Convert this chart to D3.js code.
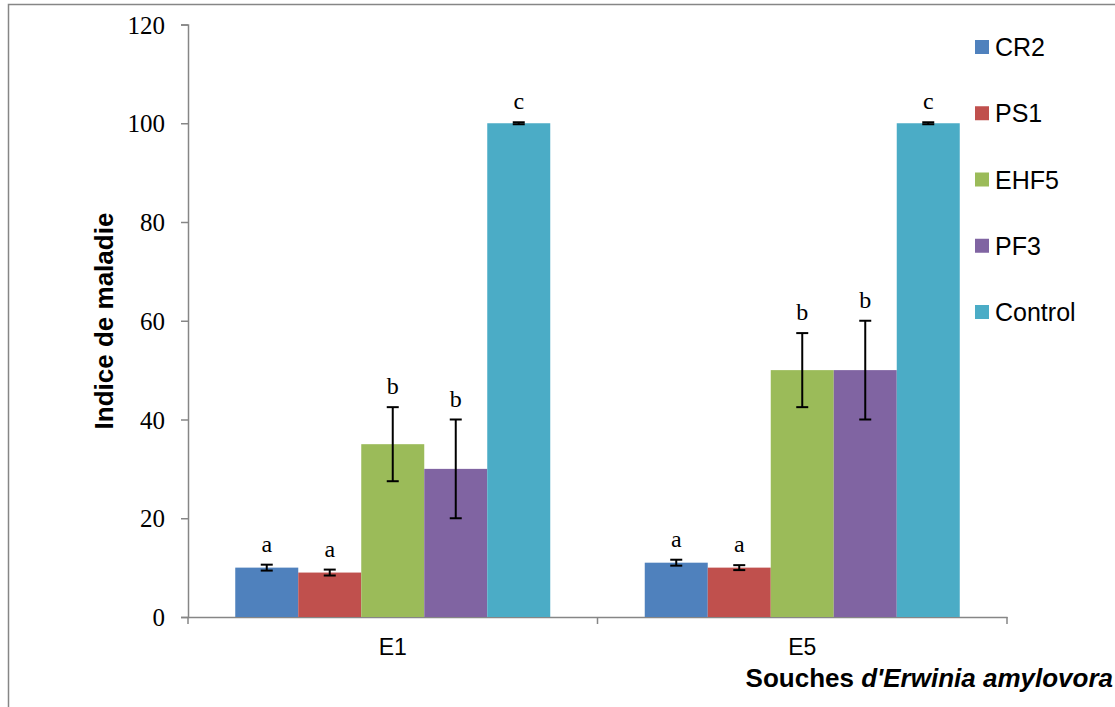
<!DOCTYPE html>
<html>
<head>
<meta charset="utf-8">
<script src="https://cdn.jsdelivr.net/npm/d3@7"></script>
<style>
  html, body { margin: 0; padding: 0; background: #fff; }
  svg { display: block; }
</style>
</head>
<body>
<svg id="chart" width="1115" height="707"></svg>
<script>
// Disease index per Erwinia amylovora strain and treatment
const strains = ["E1", "E5"];
const treatments = ["CR2", "PS1", "EHF5", "PF3", "Control"];
const colors = ["#4F81BD", "#C0504D", "#9BBB59", "#8064A2", "#4BACC6"];
const valuesE1 = [10, 9, 35, 30, 100];
const valuesE5 = [11, 10, 50, 50, 100];
const errorsE1 = [0.6, 0.6, 7.5, 10, 0.2];
const errorsE5 = [0.6, 0.5, 7.5, 10, 0.2];
const lettersE1 = ["a", "a", "b", "b", "c"];
const lettersE5 = ["a", "a", "b", "b", "c"];
const yTicks = [0, 20, 40, 60, 80, 100, 120];

const rows = [
  { strain: "E1", values: valuesE1, errors: errorsE1, letters: lettersE1 },
  { strain: "E5", values: valuesE5, errors: errorsE5, letters: lettersE5 }
];

const svg = d3.select("#chart");
const axisColor = "#868686";

// outer chart frame
svg.append("rect")
  .attr("x", 8.5).attr("y", 4.5)
  .attr("width", 1200).attr("height", 800)
  .attr("fill", "none").attr("stroke", axisColor).attr("stroke-width", 1.5);

const x0 = d3.scaleBand().domain(strains).range([188, 1007]).paddingInner(0).paddingOuter(0);
const x1 = d3.scaleBand().domain(treatments).range([0, x0.bandwidth()]).paddingInner(0).paddingOuter(0.75);
const y = d3.scaleLinear().domain([0, 120]).range([617, 24.5]);
const color = d3.scaleOrdinal().domain(treatments).range(colors);

// y axis
const yAxis = svg.append("g")
  .attr("transform", "translate(188,0)")
  .call(d3.axisLeft(y).tickValues(yTicks).tickSize(7).tickPadding(16).tickFormat(d3.format("d")));
yAxis.select(".domain").attr("stroke", axisColor).attr("stroke-width", 1.5);
yAxis.selectAll(".tick line").attr("stroke", axisColor).attr("stroke-width", 1.5);
yAxis.selectAll(".tick text")
  .attr("font-family", "'Liberation Serif', 'Times New Roman', serif")
  .attr("font-size", 25).attr("fill", "#000").attr("dy", "0.34em");

// x axis
const xAxis = svg.append("g")
  .attr("transform", "translate(0,617)")
  .call(d3.axisBottom(x0).tickSize(0).tickPadding(22));
xAxis.select(".domain").attr("stroke", axisColor).attr("stroke-width", 1.5);
xAxis.selectAll(".tick text")
  .attr("font-family", "'Liberation Sans', Arial, sans-serif")
  .attr("font-size", 23).attr("fill", "#000");
// category separator ticks
svg.append("g").selectAll("line")
  .data([x0.range()[0], x0("E5"), x0.range()[1]])
  .join("line")
  .attr("x1", d => d).attr("x2", d => d)
  .attr("y1", 617).attr("y2", 624)
  .attr("stroke", axisColor).attr("stroke-width", 1.5);

// bars
const groups = svg.append("g").selectAll("g")
  .data(rows).join("g")
  .attr("transform", d => `translate(${x0(d.strain)},0)`);

const items = groups.selectAll("g")
  .data(d => treatments.map((t, i) => ({ t, v: d.values[i], e: d.errors[i], l: d.letters[i] })))
  .join("g");

items.append("rect")
  .attr("x", d => x1(d.t))
  .attr("y", d => y(d.v))
  .attr("width", x1.bandwidth())
  .attr("height", d => y(0) - y(d.v))
  .attr("fill", d => color(d.t));

// error bars
const capHalf = 6;
items.append("line")
  .attr("x1", d => x1(d.t) + x1.bandwidth() / 2)
  .attr("x2", d => x1(d.t) + x1.bandwidth() / 2)
  .attr("y1", d => y(d.v + d.e))
  .attr("y2", d => y(d.v - d.e))
  .attr("stroke", "#000").attr("stroke-width", 2);
items.append("line")
  .attr("x1", d => x1(d.t) + x1.bandwidth() / 2 - capHalf)
  .attr("x2", d => x1(d.t) + x1.bandwidth() / 2 + capHalf)
  .attr("y1", d => y(d.v + d.e)).attr("y2", d => y(d.v + d.e))
  .attr("stroke", "#000").attr("stroke-width", 2);
items.append("line")
  .attr("x1", d => x1(d.t) + x1.bandwidth() / 2 - capHalf)
  .attr("x2", d => x1(d.t) + x1.bandwidth() / 2 + capHalf)
  .attr("y1", d => y(d.v - d.e)).attr("y2", d => y(d.v - d.e))
  .attr("stroke", "#000").attr("stroke-width", 2);

// significance letters
items.append("text")
  .attr("x", d => x1(d.t) + x1.bandwidth() / 2)
  .attr("y", d => y(d.v + d.e) - 13)
  .attr("text-anchor", "middle")
  .attr("font-family", "'Liberation Serif', 'Times New Roman', serif")
  .attr("font-size", 24).attr("fill", "#000")
  .text(d => d.l);

// axis titles
svg.append("text")
  .attr("transform", "translate(113,321) rotate(-90)")
  .attr("text-anchor", "middle")
  .attr("font-family", "'Liberation Sans', Arial, sans-serif")
  .attr("font-weight", "bold").attr("font-size", 26).attr("fill", "#000")
  .text("Indice de maladie");

const xt = svg.append("text")
  .attr("x", 1113).attr("y", 687)
  .attr("text-anchor", "end")
  .attr("font-family", "'Liberation Sans', Arial, sans-serif")
  .attr("font-weight", "bold").attr("font-size", 26).attr("fill", "#000");
xt.append("tspan").text("Souches ");
xt.append("tspan").attr("font-style", "italic").text("d'Erwinia amylovora");

// legend
const legend = svg.append("g").selectAll("g")
  .data(treatments).join("g")
  .attr("transform", (d, i) => `translate(975,${47 + i * 66.25})`);
legend.append("rect")
  .attr("x", 0).attr("y", -7).attr("width", 14).attr("height", 14)
  .attr("fill", d => color(d));
legend.append("text")
  .attr("x", 20).attr("y", 0).attr("dy", "0.36em")
  .attr("font-family", "'Liberation Sans', Arial, sans-serif")
  .attr("font-size", 25).attr("fill", "#000")
  .text(d => d);
</script>
</body>
</html>
